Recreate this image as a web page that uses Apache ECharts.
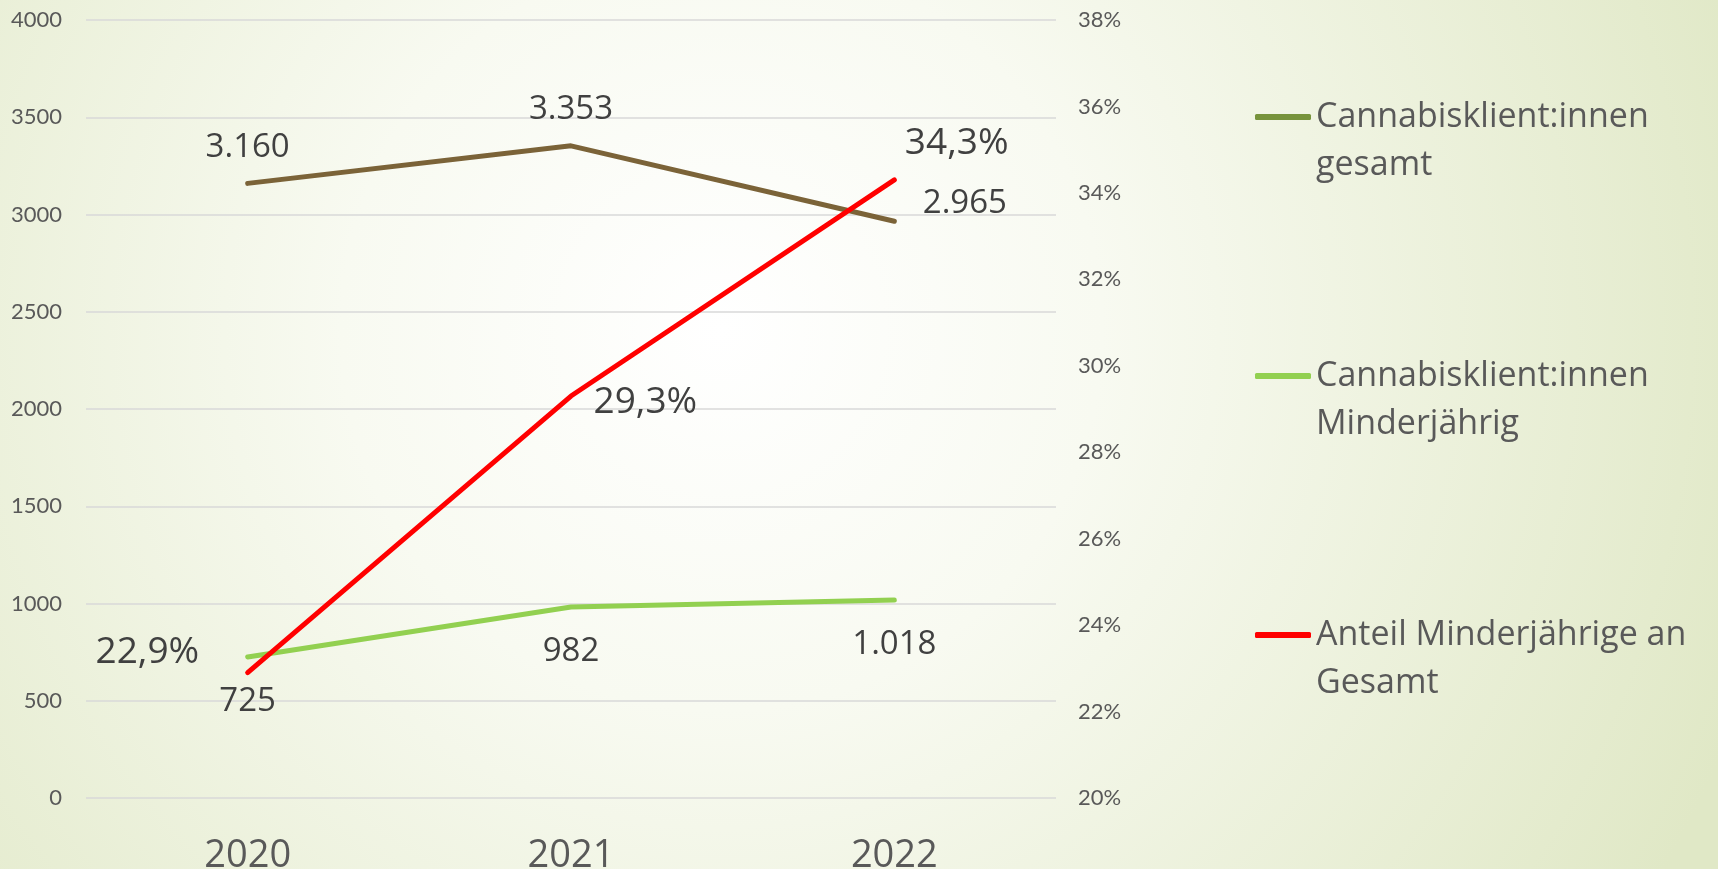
<!DOCTYPE html>
<html>
<head>
<meta charset="utf-8">
<script src="https://cdn.jsdelivr.net/npm/echarts@6/dist/echarts.min.js"></script>
<style>
  html, body { margin: 0; padding: 0; }
  #chart { width: 1718px; height: 869px; }
</style>
</head>
<body>
<div id="chart"></div>
<script>
/* Daten */
var years = ['2020', '2021', '2022'];
var gesamt = [3160, 3353, 2965];
var minderjaehrig = [725, 982, 1018];
var anteil = [22.9, 29.3, 34.3];   // Prozent
var seriesNames = ['Cannabisklient:innen\ngesamt', 'Cannabisklient:innen\nMinderjährig', 'Anteil Minderjährige an\nGesamt'];

/* Formatierung wie im Original: 3.160 bzw. 22,9% */
function fmtThousand(v) {
    return String(v).replace(/\B(?=(\d{3})+(?!\d))/g, '.');
}
function fmtPct(v) {
    return v.toFixed(1).replace('.', ',') + '%';
}

var numFont = { fontSize: 33, color: '#404040', fontFamily: 'Open Sans' };
var pctFont = { fontSize: 37, color: '#404040', fontFamily: 'Open Sans' };

// Label-Positionen pro Punkt
var posGesamt = [
    { position: 'top', distance: 19 },
    { position: 'top', distance: 19 },
    { position: 'right', distance: 28, offset: [0, -18] }
];
var posMinder = [
    { position: 'bottom', distance: 28 },
    { position: 'bottom', distance: 28 },
    { position: 'bottom', distance: 28 }
];
var posAnteil = [
    { position: 'left', distance: 48, offset: [0, -20] },
    { position: 'right', distance: 22, offset: [0, 6] },
    { position: 'right', distance: 10, offset: [0, -36] }
];

function buildData(values, pos, fmt, font) {
    var out = [];
    for (var i = 0; i < values.length; i++) {
        var lbl = Object.assign({ show: true, formatter: fmt(values[i]) }, font, pos[i]);
        out.push({ value: values[i], label: lbl });
    }
    return out;
}

var myChart = echarts.init(document.getElementById('chart'));
var option = {
    backgroundColor: {
        type: 'radial', x: 0.42, y: 0.38, r: 1.25,
        colorStops: [
            { offset: 0, color: '#ffffff' },
            { offset: 0.35, color: '#f8faf1' },
            { offset: 1, color: '#e0e8c6' }
        ]
    },
    animation: false,
    grid: { left: 86, right: 662, top: 20, height: 778, containLabel: false, outerBoundsMode: 'none' },
    legend: {
        orient: 'vertical',
        left: 1250, top: 40,
        itemWidth: 56, itemHeight: 6, itemGap: 115,
        icon: 'roundRect',
        // leere erste Zeile, damit das Symbol auf Höhe der ersten Textzeile steht
        formatter: function (name) { return '\n' + name; },
        textStyle: { fontSize: 34, color: '#595959', fontFamily: 'Open Sans', lineHeight: 48 },
        data: [
            { name: seriesNames[0], itemStyle: { color: '#77933c' } },
            { name: seriesNames[1], itemStyle: { color: '#92d050' } },
            { name: seriesNames[2], itemStyle: { color: '#ff0000' } }
        ]
    },
    xAxis: {
        type: 'category',
        data: years,
        boundaryGap: true,
        axisLine: { show: false },
        axisTick: { show: false },
        axisLabel: { fontSize: 38, color: '#595959', fontFamily: 'Open Sans', margin: 39 }
    },
    yAxis: [
        {
            type: 'value', min: 0, max: 4000, interval: 500,
            axisLine: { show: false }, axisTick: { show: false },
            axisLabel: { fontSize: 22, color: '#595959', fontFamily: 'Lato', margin: 24,
                formatter: function (v) { return String(v); } },
            splitLine: { lineStyle: { color: '#d9d9d9', width: 1.5 } }
        },
        {
            type: 'value', min: 20, max: 38, interval: 2, position: 'right',
            axisLine: { show: false }, axisTick: { show: false },
            axisLabel: { fontSize: 22, color: '#595959', fontFamily: 'Lato', margin: 22, formatter: '{value}%' },
            splitLine: { show: false }
        }
    ],
    series: [
        {
            name: seriesNames[0], type: 'line', yAxisIndex: 0,
            symbol: 'circle', symbolSize: 1,
            itemStyle: { color: '#7b6338' },
            lineStyle: { color: '#7b6338', width: 5, cap: 'round' },
            data: buildData(gesamt, posGesamt, fmtThousand, numFont)
        },
        {
            name: seriesNames[1], type: 'line', yAxisIndex: 0,
            symbol: 'circle', symbolSize: 1,
            itemStyle: { color: '#92d050' },
            lineStyle: { color: '#92d050', width: 5, cap: 'round' },
            data: buildData(minderjaehrig, posMinder, fmtThousand, numFont)
        },
        {
            name: seriesNames[2], type: 'line', yAxisIndex: 1,
            symbol: 'circle', symbolSize: 1,
            itemStyle: { color: '#ff0000' },
            lineStyle: { color: '#ff0000', width: 5, cap: 'round' },
            data: buildData(anteil, posAnteil, fmtPct, pctFont)
        }
    ]
};
myChart.setOption(option);
</script>
</body>
</html>
